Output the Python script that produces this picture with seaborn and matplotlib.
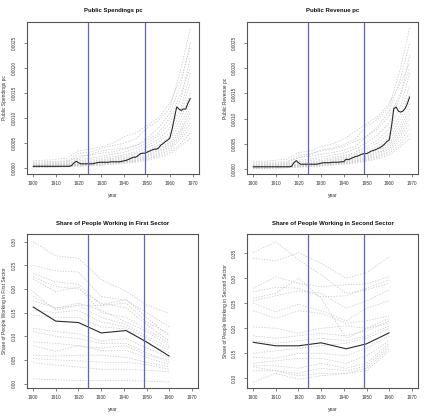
import numpy as np
import pandas as pd
import matplotlib
matplotlib.use("Agg")
import matplotlib.pyplot as plt
import seaborn as sns

# ---------------- data ----------------
years_annual = list(range(1900, 1970))
spend_mean = [
    0.00004, 0.00004, 0.00004, 0.00004, 0.00004, 0.00004, 0.00004, 0.00004, 0.00004, 0.00004,
    0.00004, 0.00004, 0.00004, 0.00004, 0.00004, 0.00004, 0.00004, 0.00006, 0.00011, 0.00014,
    0.00011, 0.00009, 0.00009, 0.00009, 0.00009, 0.00009, 0.00009, 0.00010, 0.00011, 0.00012,
    0.00012, 0.00012, 0.00012, 0.00012, 0.00013, 0.00013, 0.00013, 0.00013, 0.00013, 0.00014,
    0.00015, 0.00016, 0.00018, 0.00020, 0.00022, 0.00022, 0.00025, 0.00029, 0.00030, 0.00030,
    0.00032, 0.00034, 0.00036, 0.00038, 0.00038, 0.00040, 0.00046, 0.00049, 0.00053, 0.00056,
    0.00060, 0.00078, 0.00100, 0.00122, 0.00118, 0.00115, 0.00118, 0.00118, 0.00130, 0.00139,
]
rev_mean = [
    0.00005, 0.00005, 0.00005, 0.00005, 0.00005, 0.00005, 0.00005, 0.00005, 0.00005, 0.00005,
    0.00005, 0.00005, 0.00005, 0.00005, 0.00005, 0.00005, 0.00005, 0.00006, 0.00013, 0.00017,
    0.00013, 0.00010, 0.00010, 0.00010, 0.00010, 0.00010, 0.00010, 0.00010, 0.00010, 0.00011,
    0.00012, 0.00013, 0.00013, 0.00013, 0.00013, 0.00014, 0.00014, 0.00014, 0.00014, 0.00015,
    0.00015, 0.00020, 0.00019, 0.00021, 0.00023, 0.00025, 0.00026, 0.00028, 0.00030, 0.00031,
    0.00031, 0.00033, 0.00036, 0.00037, 0.00039, 0.00041, 0.00043, 0.00046, 0.00050, 0.00055,
    0.00058, 0.00085, 0.00120, 0.00123, 0.00115, 0.00113, 0.00115, 0.00120, 0.00130, 0.00143,
]

years_5 = [1900, 1905, 1910, 1915, 1920, 1925, 1930, 1935, 1940, 1945, 1950, 1955, 1960, 1965, 1969]
spend_countries = [
    [0.00015, 0.00016, 0.00018, 0.00020, 0.00035, 0.00038, 0.00043, 0.00050, 0.00063, 0.00070, 0.00085, 0.00100, 0.00130, 0.00180, 0.00240],
    [0.00010, 0.00011, 0.00012, 0.00014, 0.00030, 0.00032, 0.00040, 0.00045, 0.00050, 0.00058, 0.00080, 0.00095, 0.00120, 0.00200, 0.00280],
    [0.00008, 0.00009, 0.00010, 0.00012, 0.00025, 0.00026, 0.00030, 0.00033, 0.00038, 0.00045, 0.00060, 0.00080, 0.00110, 0.00170, 0.00250],
    [0.00007, 0.00008, 0.00009, 0.00010, 0.00018, 0.00020, 0.00024, 0.00028, 0.00032, 0.00040, 0.00050, 0.00065, 0.00090, 0.00140, 0.00220],
    [0.00006, 0.00007, 0.00008, 0.00009, 0.00015, 0.00017, 0.00020, 0.00023, 0.00027, 0.00033, 0.00045, 0.00058, 0.00080, 0.00120, 0.00190],
    [0.00005, 0.00006, 0.00007, 0.00008, 0.00012, 0.00014, 0.00017, 0.00020, 0.00024, 0.00030, 0.00040, 0.00052, 0.00070, 0.00110, 0.00170],
    [0.00005, 0.00005, 0.00006, 0.00007, 0.00010, 0.00012, 0.00015, 0.00018, 0.00021, 0.00027, 0.00035, 0.00046, 0.00063, 0.00100, 0.00150],
    [0.00004, 0.00005, 0.00005, 0.00006, 0.00009, 0.00011, 0.00013, 0.00016, 0.00019, 0.00024, 0.00032, 0.00042, 0.00058, 0.00090, 0.00130],
    [0.00004, 0.00004, 0.00005, 0.00006, 0.00008, 0.00010, 0.00012, 0.00014, 0.00017, 0.00022, 0.00029, 0.00038, 0.00052, 0.00080, 0.00120],
    [0.00003, 0.00004, 0.00004, 0.00005, 0.00007, 0.00009, 0.00011, 0.00013, 0.00015, 0.00020, 0.00026, 0.00035, 0.00048, 0.00075, 0.00110],
    [0.00003, 0.00003, 0.00004, 0.00005, 0.00007, 0.00008, 0.00010, 0.00012, 0.00014, 0.00018, 0.00024, 0.00032, 0.00044, 0.00070, 0.00100],
    [0.00003, 0.00003, 0.00003, 0.00004, 0.00006, 0.00007, 0.00009, 0.00011, 0.00013, 0.00016, 0.00022, 0.00029, 0.00040, 0.00065, 0.00090],
    [0.00002, 0.00003, 0.00003, 0.00004, 0.00005, 0.00006, 0.00008, 0.00010, 0.00012, 0.00015, 0.00020, 0.00026, 0.00036, 0.00060, 0.00080],
    [0.00002, 0.00002, 0.00003, 0.00003, 0.00005, 0.00006, 0.00007, 0.00009, 0.00011, 0.00014, 0.00018, 0.00024, 0.00032, 0.00050, 0.00070],
    [0.00002, 0.00002, 0.00002, 0.00003, 0.00004, 0.00005, 0.00006, 0.00008, 0.00010, 0.00012, 0.00016, 0.00021, 0.00028, 0.00045, 0.00060],
    [0.00012, 0.00013, 0.00014, 0.00015, 0.00020, 0.00028, 0.00035, 0.00038, 0.00040, 0.00045, 0.00055, 0.00070, 0.00100, 0.00150, 0.00200],
]
rev_countries = [
    [0.00015, 0.00016, 0.00018, 0.00020, 0.00033, 0.00036, 0.00045, 0.00050, 0.00060, 0.00075, 0.00090, 0.00105, 0.00130, 0.00170, 0.00210],
    [0.00010, 0.00011, 0.00012, 0.00014, 0.00028, 0.00030, 0.00038, 0.00042, 0.00048, 0.00060, 0.00085, 0.00100, 0.00125, 0.00200, 0.00280],
    [0.00008, 0.00009, 0.00010, 0.00012, 0.00024, 0.00026, 0.00030, 0.00033, 0.00038, 0.00045, 0.00065, 0.00085, 0.00115, 0.00180, 0.00250],
    [0.00007, 0.00008, 0.00009, 0.00010, 0.00018, 0.00020, 0.00024, 0.00028, 0.00032, 0.00040, 0.00052, 0.00068, 0.00092, 0.00145, 0.00225],
    [0.00006, 0.00007, 0.00008, 0.00009, 0.00015, 0.00017, 0.00020, 0.00023, 0.00027, 0.00033, 0.00045, 0.00058, 0.00080, 0.00125, 0.00190],
    [0.00005, 0.00006, 0.00007, 0.00008, 0.00012, 0.00014, 0.00017, 0.00020, 0.00024, 0.00030, 0.00040, 0.00052, 0.00070, 0.00110, 0.00165],
    [0.00005, 0.00005, 0.00006, 0.00007, 0.00010, 0.00012, 0.00015, 0.00018, 0.00021, 0.00027, 0.00035, 0.00046, 0.00063, 0.00100, 0.00150],
    [0.00004, 0.00005, 0.00005, 0.00006, 0.00009, 0.00011, 0.00013, 0.00016, 0.00019, 0.00024, 0.00032, 0.00042, 0.00058, 0.00090, 0.00130],
    [0.00004, 0.00004, 0.00005, 0.00006, 0.00008, 0.00010, 0.00012, 0.00014, 0.00017, 0.00022, 0.00029, 0.00038, 0.00052, 0.00082, 0.00120],
    [0.00003, 0.00004, 0.00004, 0.00005, 0.00007, 0.00009, 0.00011, 0.00013, 0.00015, 0.00020, 0.00026, 0.00035, 0.00048, 0.00076, 0.00110],
    [0.00003, 0.00003, 0.00004, 0.00005, 0.00007, 0.00008, 0.00010, 0.00012, 0.00014, 0.00018, 0.00024, 0.00032, 0.00044, 0.00070, 0.00100],
    [0.00003, 0.00003, 0.00003, 0.00004, 0.00006, 0.00007, 0.00009, 0.00011, 0.00013, 0.00016, 0.00022, 0.00029, 0.00040, 0.00065, 0.00090],
    [0.00002, 0.00003, 0.00003, 0.00004, 0.00005, 0.00006, 0.00008, 0.00010, 0.00012, 0.00015, 0.00020, 0.00026, 0.00036, 0.00058, 0.00080],
    [0.00002, 0.00002, 0.00003, 0.00003, 0.00005, 0.00006, 0.00007, 0.00009, 0.00011, 0.00014, 0.00018, 0.00024, 0.00032, 0.00050, 0.00070],
    [0.00002, 0.00002, 0.00002, 0.00003, 0.00004, 0.00005, 0.00006, 0.00008, 0.00010, 0.00012, 0.00016, 0.00021, 0.00028, 0.00045, 0.00060],
    [0.00012, 0.00013, 0.00014, 0.00015, 0.00022, 0.00030, 0.00036, 0.00040, 0.00045, 0.00055, 0.00065, 0.00080, 0.00105, 0.00150, 0.00200],
]

years_census = [1900, 1910, 1920, 1930, 1941, 1950, 1960]
first_mean = [0.162, 0.132, 0.129, 0.107, 0.112, 0.088, 0.058]
first_countries = [
    [0.300, 0.270, 0.265, 0.220, 0.195, 0.166, 0.148],
    [0.250, 0.238, 0.236, 0.184, 0.176, 0.150, 0.120],
    [0.233, 0.215, 0.210, 0.166, 0.178, 0.140, 0.100],
    [0.226, 0.205, 0.200, 0.170, 0.160, 0.125, 0.090],
    [0.221, 0.194, 0.205, 0.150, 0.140, 0.115, 0.085],
    [0.194, 0.155, 0.166, 0.165, 0.170, 0.130, 0.105],
    [0.184, 0.159, 0.170, 0.155, 0.130, 0.110, 0.080],
    [0.175, 0.160, 0.165, 0.140, 0.125, 0.100, 0.075],
    [0.155, 0.150, 0.155, 0.130, 0.120, 0.095, 0.070],
    [0.145, 0.140, 0.140, 0.120, 0.115, 0.085, 0.065],
    [0.117, 0.110, 0.105, 0.090, 0.095, 0.075, 0.055],
    [0.110, 0.100, 0.095, 0.085, 0.085, 0.065, 0.045],
    [0.088, 0.085, 0.080, 0.075, 0.080, 0.060, 0.050],
    [0.080, 0.068, 0.080, 0.070, 0.070, 0.055, 0.040],
    [0.060, 0.058, 0.060, 0.060, 0.055, 0.045, 0.035],
    [0.053, 0.050, 0.048, 0.045, 0.045, 0.040, 0.030],
    [0.044, 0.039, 0.035, 0.030, 0.030, 0.028, 0.025],
    [0.010, 0.008, 0.006, 0.006, 0.006, 0.005, 0.003],
]
second_mean = [0.172, 0.165, 0.165, 0.171, 0.159, 0.169, 0.191]
second_countries = [
    [0.351, 0.373, 0.337, 0.307, 0.270, 0.277, 0.290],
    [0.340, 0.335, 0.351, 0.330, 0.300, 0.311, 0.343],
    [0.280, 0.303, 0.290, 0.283, 0.287, 0.289, 0.303],
    [0.273, 0.282, 0.280, 0.263, 0.265, 0.280, 0.297],
    [0.255, 0.265, 0.275, 0.270, 0.240, 0.255, 0.277],
    [0.251, 0.233, 0.248, 0.235, 0.215, 0.240, 0.255],
    [0.235, 0.220, 0.235, 0.230, 0.210, 0.215, 0.225],
    [0.203, 0.200, 0.190, 0.200, 0.205, 0.200, 0.220],
    [0.185, 0.180, 0.185, 0.190, 0.185, 0.195, 0.215],
    [0.175, 0.170, 0.175, 0.180, 0.175, 0.185, 0.205],
    [0.150, 0.155, 0.160, 0.165, 0.170, 0.180, 0.200],
    [0.142, 0.140, 0.150, 0.150, 0.145, 0.160, 0.185],
    [0.130, 0.135, 0.140, 0.140, 0.130, 0.145, 0.175],
    [0.125, 0.125, 0.120, 0.130, 0.120, 0.130, 0.170],
    [0.123, 0.115, 0.110, 0.120, 0.115, 0.125, 0.165],
    [0.115, 0.115, 0.105, 0.110, 0.110, 0.120, 0.160],
    [0.092, 0.110, 0.098, 0.105, 0.110, 0.115, 0.155],
    [0.260, 0.270, 0.300, 0.260, 0.180, 0.200, 0.210],
]

vline_years = [1924, 1949]
x_ticks = [1900, 1910, 1920, 1930, 1940, 1950, 1960, 1970]

# ---------------- style ----------------
sns.set_theme(style="white")
plt.rcParams["font.family"] = ["Liberation Sans", "DejaVu Sans"]

GRAY = "#c9c9c9"
MEAN = "#2b2b2b"
VCOL = "#6262cc"
FRAME = "#555555"
TICK_FS = 3.4
LAB_FS = 3.5
TITLE_FS = 4.3

fig = plt.figure(figsize=(4.3, 4.2), dpi=100)
W, H = 430.0, 420.0


def make_ax(l, r, t, b):
    return fig.add_axes([l / W, 1 - b / H, (r - l) / W, (b - t) / H])


panels = [
    dict(box=(26.7, 199.0, 22.0, 174.0), years=years_5, countries=spend_countries,
         myears=years_annual, mean=spend_mean, ylim=(-0.000113, 0.00291),
         yticks=[0, 0.0005, 0.0010, 0.0015, 0.0020, 0.0025], fmt="{:.4f}",
         title="Public Spendings pc", ylabel="Public Spendings pc", title_y=10.5, xlab_y=195.7),
    dict(box=(246.7, 418.3, 22.0, 174.0), years=years_5, countries=rev_countries,
         myears=years_annual, mean=rev_mean, ylim=(-0.000093, 0.00291),
         yticks=[0, 0.0005, 0.0010, 0.0015, 0.0020, 0.0025], fmt="{:.4f}",
         title="Public Revenue pc", ylabel="Public Revenue pc", title_y=10.5, xlab_y=195.7),
    dict(box=(26.7, 198.3, 234.0, 388.0), years=years_census, countries=first_countries,
         myears=years_census, mean=first_mean, ylim=(-0.0095, 0.3163),
         yticks=[0, 0.05, 0.10, 0.15, 0.20, 0.25, 0.30], fmt="{:.2f}",
         title="Share of People Working in First Sector",
         ylabel="Share of People Working in First Sector", title_y=224.0, xlab_y=409.3),
    dict(box=(246.7, 418.3, 234.0, 388.0), years=years_census, countries=second_countries,
         myears=years_census, mean=second_mean, ylim=(0.0806, 0.3886),
         yticks=[0.10, 0.15, 0.20, 0.25, 0.30, 0.35], fmt="{:.2f}",
         title="Share of People Working in Second Sector",
         ylabel="Share of People Working in Second Sector", title_y=224.0, xlab_y=409.3),
]

for p in panels:
    l, r, t, b = p["box"]
    ax = make_ax(l, r, t, b)
    rows = []
    for i, series in enumerate(p["countries"]):
        for yv, v in zip(p["years"], series):
            rows.append({"unit": i, "year": yv, "value": v})
    df = pd.DataFrame(rows)
    sns.lineplot(data=df, x="year", y="value", units="unit", estimator=None,
                 color=GRAY, lw=0.55, linestyle=(0, (1.8, 1.8)), ax=ax, legend=False)
    dm = pd.DataFrame({"year": p["myears"], "value": p["mean"]})
    sns.lineplot(data=dm, x="year", y="value", color=MEAN, lw=0.8, ax=ax, legend=False)
    for vy in vline_years:
        ax.axvline(vy, color=VCOL, lw=0.9)

    ax.set_xlim(1897.2, 1972.8)
    ax.set_ylim(*p["ylim"])
    ax.set_xticks(x_ticks)
    ax.set_xticklabels([str(x) for x in x_ticks], fontsize=TICK_FS, color="#333333")
    ax.set_yticks(p["yticks"])
    ax.set_yticklabels([p["fmt"].format(v) for v in p["yticks"]], fontsize=TICK_FS,
                       rotation=90, va="center", color="#333333")
    ax.tick_params(axis="both", direction="out", length=2.2, width=0.5, color=FRAME,
                   bottom=True, left=True)
    ax.tick_params(axis="x", pad=2.8)
    ax.tick_params(axis="y", pad=4.8)
    for s in ax.spines.values():
        s.set_visible(True)
        s.set_color(FRAME)
        s.set_linewidth(0.8)

    ax.set_xlabel("")
    ax.set_ylabel("")
    cx = (l + r) / 2
    fig.text(cx / W, 1 - p["title_y"] / H, p["title"], fontsize=TITLE_FS,
             fontweight="bold", ha="center", va="center", color="#111111")
    fig.text(cx / W, 1 - p["xlab_y"] / H, "year", fontsize=LAB_FS,
             ha="center", va="center", color="#333333")
    cy = (t + b) / 2
    fig.text((l - 21.7) / W, 1 - cy / H, p["ylabel"], fontsize=LAB_FS, rotation=90,
             ha="center", va="center", color="#333333")

fig.savefig("out.png", dpi=100, facecolor="white")
